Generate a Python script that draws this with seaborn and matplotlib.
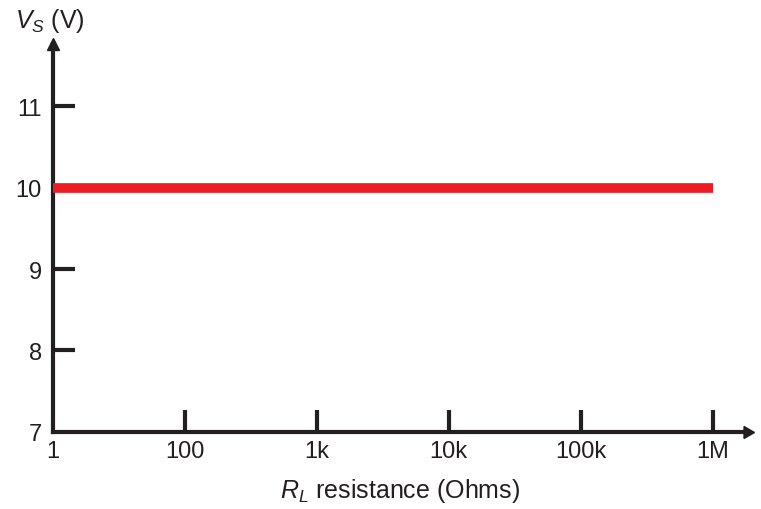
import numpy as np
import pandas as pd
import matplotlib
matplotlib.use("Agg")
import matplotlib.pyplot as plt
import seaborn as sns

# data
r_labels = ["1", "100", "1k", "10k", "100k", "1M"]
vs_values = [10, 10, 10, 10, 10, 10]
y_ticks = [8, 9, 10, 11]

sns.set_style("white")
plt.rcParams['font.family'] = ['Liberation Sans', 'DejaVu Sans']
plt.rcParams['mathtext.fontset'] = 'custom'
plt.rcParams['mathtext.rm'] = 'Liberation Sans'
plt.rcParams['mathtext.it'] = 'Liberation Sans:italic'

ink = "#231f20"
df = pd.DataFrame({"pos": np.arange(len(r_labels)), "vs": vs_values})

fig = plt.figure(figsize=(7.61, 5.10), dpi=100)
ax = fig.add_axes([0.0696, 0.151, 0.912, 0.7606])

sns.lineplot(data=df, x="pos", y="vs", color="#ed1c24", linewidth=7,
             solid_capstyle="butt", ax=ax, zorder=3)

ax.set_xlim(0, 5.26)
ax.set_ylim(7, 11.76)
ax.set_xticks(df["pos"])
ax.set_xticklabels(r_labels)
ax.set_yticks([7] + y_ticks)
ax.set_yticklabels(["7"] + [str(t) for t in y_ticks])

for s in ["top", "right"]:
    ax.spines[s].set_visible(False)
for s in ["left", "bottom"]:
    ax.spines[s].set_linewidth(3)
    ax.spines[s].set_color(ink)

ax.tick_params(axis="both", direction="in", length=16, width=3, color=ink,
               labelsize=17, labelcolor=ink, bottom=True, left=True)
ax.tick_params(axis="x", pad=6)
ax.tick_params(axis="y", pad=8)
# hide tick marks at the origin
ax.xaxis.get_major_ticks()[0].tick1line.set_visible(False)
ax.yaxis.get_major_ticks()[0].tick1line.set_visible(False)

# arrow heads
ax.plot(1, 0, marker=(3, 0, -90), markersize=10, color=ink,
        transform=ax.transAxes, clip_on=False)
ax.plot(0, 1, marker="^", markersize=9, color=ink,
        transform=ax.transAxes, clip_on=False)

ax.set_xlabel("$R_L$ resistance (Ohms)", fontsize=18, color=ink, labelpad=10)
ax.set_ylabel("")
fig.text(0.02, 0.958, "$V_S$ (V)", fontsize=18, color=ink, ha="left", va="center")

fig.savefig("out.png", dpi=100)
